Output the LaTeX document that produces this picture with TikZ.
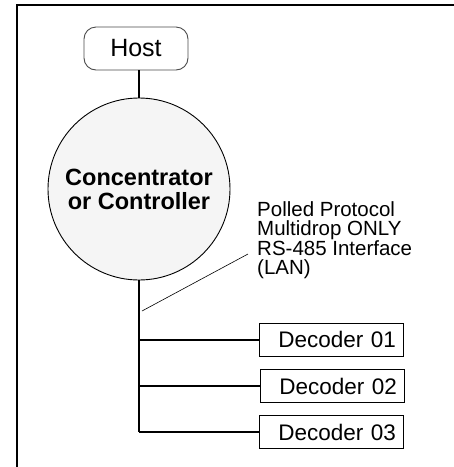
\documentclass[tikz,border=0pt]{standalone}
\usepackage{fontspec}
\setmainfont{Liberation Sans}
\begin{document}
\begin{tikzpicture}[x=1pt,y=-1pt,
  frame/.style={line width=1.3pt},
  conn/.style={line width=2pt},
  hostbox/.style={draw=black!70, line width=0.9pt, rounded corners=12pt, minimum width=104pt, minimum height=43pt, inner sep=0pt, font=\fontsize{25}{25}\selectfont},
  ctrlcircle/.style={circle, draw, line width=0.9pt, fill=black!4, minimum size=182pt, inner sep=0pt, align=center, font=\bfseries\fontsize{23.5}{24}\selectfont},
  decbox/.style={draw, line width=0.9pt, text width=130pt, align=right, inner xsep=7pt, minimum height=33pt, inner ysep=0pt, font=\fontsize{22.5}{22.5}\selectfont},
  note/.style={align=left, inner sep=0pt, font=\fontsize{20.5}{19}\selectfont},
  leader/.style={line width=0.6pt}]
\useasboundingbox (0,0) rectangle (454,467);
\fill[white] (0,0) rectangle (454,467);
\draw[frame] (17,467) -- (17,5) -- (454,5);
\node[hostbox] (host) at (136,48.5) {Host};
\node[ctrlcircle] (ctrl) at (139,189) {\rule{0pt}{9pt}Concentrator\\or Controller};
\node[decbox] (d1) at (331,339.5) {Decoder 01};
\node[decbox] (d2) at (332,386) {Decoder 02};
\node[decbox] (d3) at (331,432) {Decoder 03};
\node[note, anchor=west] (note) at (257,240) {Polled Protocol\\Multidrop ONLY\\RS-485 Interface\\(LAN)};
\coordinate (busend) at (ctrl.south |- d3.west);
\coordinate (lp) at (248,254);
\coordinate (bp) at (142,311);
\draw[conn] (host.south -| ctrl.north) -- (ctrl.north);
\draw[conn] (ctrl.south) -- (busend);
\draw[conn] (ctrl.south |- d1.west) -- (d1.west);
\draw[conn] (ctrl.south |- d2.west) -- (d2.west);
\draw[conn] (busend) -- (d3.west);
\draw[leader] (bp) -- (lp);
\end{tikzpicture}
\end{document}
